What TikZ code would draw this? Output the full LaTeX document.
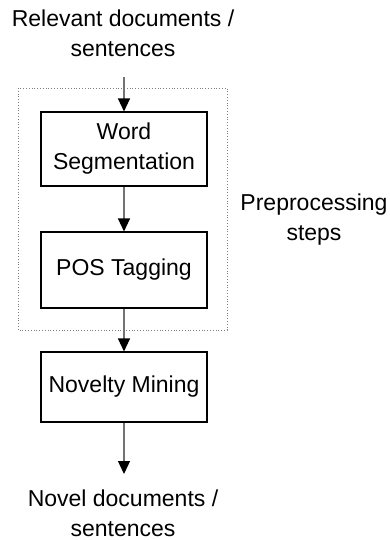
\documentclass[tikz,border=0pt]{standalone}
\usepackage{fontspec}
\setmainfont{Liberation Sans}
\usetikzlibrary{arrows.meta}
\begin{document}
\begin{tikzpicture}[x=1pt,y=-1pt,
  lbl/.style={font=\fontsize{23}{30}\selectfont, align=center, inner sep=0pt},
  stepbox/.style={draw=black, line width=1.1pt, minimum width=166pt, inner sep=0pt, font=\fontsize{23}{30}\selectfont, align=center},
  flow/.style={draw=black!55, line width=1.3pt, -{Triangle[width=12pt,length=13pt,color=black]}}]
\useasboundingbox (0,0) rectangle (390,540);
\node[lbl] (in) at (123,33) {Relevant documents /\\sentences};
\draw[black!50, line width=0.8pt, dotted] (18,88) rectangle (227,330);
\node[stepbox, minimum height=74pt] (ws) at (124,149) {Word\\Segmentation};
\node[stepbox, minimum height=76pt] (pos) at (124,270) {POS Tagging};
\node[stepbox, minimum height=70pt] (nm) at (124,387) {Novelty Mining};
\node[lbl] (out) at (123,513) {Novel documents /\\sentences};
\node[lbl] (pre) at (314,220) {Preprocessing\\steps};
\coordinate (inb) at (124,77);
\coordinate (oute) at (124,474);
\draw[flow] (inb) -- (ws.north);
\draw[flow] (ws.south) -- (pos.north);
\draw[flow] (pos.south) -- (nm.north);
\draw[flow] (nm.south) -- (oute);
\end{tikzpicture}
\end{document}
